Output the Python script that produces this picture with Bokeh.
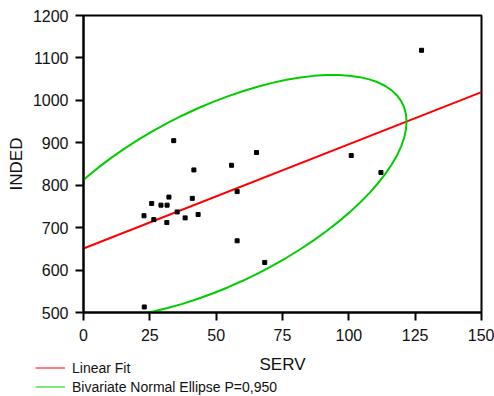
import numpy as np
from bokeh.plotting import figure
from bokeh.layouts import column
from bokeh.models import FixedTicker, Legend, LegendItem, Range1d, Label
from bokeh.embed import file_html
from bokeh.resources import INLINE

# ---- data ----
SERV = [34.0, 65.2, 55.8, 41.6, 57.9, 32.2, 41.0, 25.7, 29.2, 31.5, 35.3,
        22.8, 38.3, 43.2, 26.5, 31.4, 57.9, 68.3, 22.9, 127.4, 100.9, 112.1]
INDED = [905, 877, 847, 836, 785, 772, 769, 757, 753, 753, 737,
         728, 723, 731, 719, 712, 669, 618, 513, 1118, 870, 830]
x_ticks = [0, 25, 50, 75, 100, 125, 150]
y_ticks = [500, 600, 700, 800, 900, 1000, 1100, 1200]
x_title = "SERV"
y_title = "INDED"
fit_label = "Linear Fit"
ellipse_label = "Bivariate Normal Ellipse P=0,950"
chi2_95_2df = 5.991

FONT = "Liberation Sans"
RED = "#ff0000"
GREEN = "#00cc00"
TXT = "#111111"

p = figure(width=494, height=347, output_backend="svg", toolbar_location=None,
           x_range=Range1d(x_ticks[0], x_ticks[-1]),
           y_range=Range1d(y_ticks[0], y_ticks[-1]),
           min_border_left=83, min_border_right=13, min_border_top=15,
           min_border_bottom=35)
p.frame_align = False
p.background_fill_color = "white"
p.border_fill_color = "white"
p.outline_line_color = "black"
p.outline_line_width = 2
p.xgrid.visible = False
p.ygrid.visible = False

for ax, ticks in ((p.xaxis[0], x_ticks), (p.yaxis[0], y_ticks)):
    ax.ticker = FixedTicker(ticks=ticks)
    ax.axis_line_width = 2
    ax.axis_line_color = "black"
    ax.major_tick_line_width = 2
    ax.major_tick_line_color = "black"
    ax.major_tick_out = 8
    ax.major_tick_in = 0
    ax.minor_tick_line_color = None
    ax.major_label_text_font = FONT
    ax.major_label_text_font_size = "16px"
    ax.major_label_text_color = TXT
    ax.axis_label_text_font = FONT
    ax.axis_label_text_font_size = "17px"
    ax.axis_label_text_font_style = "normal"
    ax.axis_label_text_color = TXT

p.xaxis.major_label_standoff = 8
p.yaxis.major_label_standoff = 7
p.yaxis.axis_label = y_title
p.yaxis.axis_label_standoff = 4

x = np.array(SERV, dtype=float)
y = np.array(INDED, dtype=float)

# linear fit
slope, intercept = np.polyfit(x, y, 1)
xf = np.array([x_ticks[0], x_ticks[-1]], dtype=float)
p.line(xf, intercept + slope * xf, line_color=RED, line_width=2)

# bivariate normal ellipse (95%)
mean = np.array([x.mean(), y.mean()])
cov = np.cov(np.vstack([x, y]))
L = np.linalg.cholesky(cov)
t = np.linspace(0, 2 * np.pi, 80)
circ = np.vstack([np.cos(t), np.sin(t)]) * np.sqrt(chi2_95_2df)
ell = (L @ circ) + mean[:, None]
p.line(ell[0], ell[1], line_color=GREEN, line_width=2)

# points
p.scatter(x, y, marker="square", size=4, fill_color="black", line_color="black")

# ---- bottom strip: x title + legend ----
W2, H2 = 494, 49
p2 = figure(width=W2, height=H2, output_backend="svg", toolbar_location=None,
            x_range=Range1d(0, W2), y_range=Range1d(0, H2),
            x_axis_type=None, y_axis_type=None,
            min_border_left=0, min_border_right=0, min_border_top=0,
            min_border_bottom=0)
p2.frame_align = False
p2.outline_line_color = None
p2.background_fill_color = "white"
p2.border_fill_color = "white"

r_fit_key = p2.line([np.nan], [np.nan], line_color=RED, line_width=1)
r_ell_key = p2.line([np.nan], [np.nan], line_color=GREEN, line_width=1)

p2.add_layout(Label(x=282, y=H2 - 17, text=x_title, text_align="center",
                    text_baseline="middle", text_font=FONT,
                    text_font_size="17px", text_color=TXT))

legend = Legend(items=[LegendItem(label=fit_label, renderers=[r_fit_key]),
                       LegendItem(label=ellipse_label, renderers=[r_ell_key])],
                location=(35, 0))
legend.border_line_color = None
legend.background_fill_alpha = 0
legend.padding = 0
legend.margin = 0
legend.spacing = 0
legend.glyph_width = 30
legend.glyph_height = 19
legend.label_height = 19
legend.label_standoff = 7
legend.label_text_font = FONT
legend.label_text_font_size = "14px"
legend.label_text_color = TXT
p2.add_layout(legend, "center")

layout = column(p, p2, spacing=0)
open("out.html", "w").write(file_html(layout, INLINE))
